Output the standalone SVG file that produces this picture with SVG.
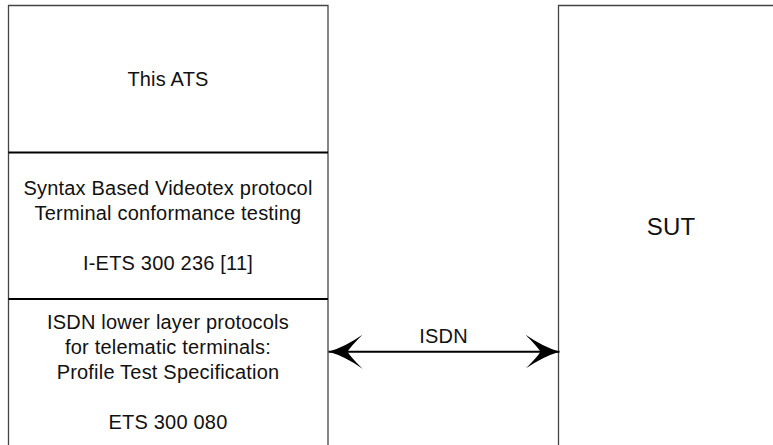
<svg xmlns="http://www.w3.org/2000/svg" width="773" height="445" viewBox="0 0 773 445">
<style>
  text { font-family: "Liberation Sans", Arial, sans-serif; font-size: 20px; letter-spacing: 0.2px; fill: #111; text-anchor: middle; }
  .edge { stroke: #444; stroke-width: 1.3; fill: none; }
  .div { stroke: #000; stroke-width: 2; fill: none; }
  .conn { stroke: #000; stroke-width: 2; fill: none; }
</style>
<defs>
  <marker id="head" viewBox="0 -17 34 34" refX="34" refY="0" markerWidth="34" markerHeight="34" markerUnits="userSpaceOnUse" orient="auto-start-reverse">
    <path d="M34,0 Q17,-5 0,-17 Q12,-5 15,0 Q12,5 0,17 Q17,5 34,0 Z" fill="#000"/>
  </marker>
</defs>
<rect width="773" height="445" fill="#fff"/>
<g id="ats-stack">
  <path class="edge" d="M8.5,446 V5.5 H328 V446"/>
  <g id="this-ats">
    <text x="168" y="86">This ATS</text>
  </g>
  <g id="videotex">
    <line class="div" x1="8.5" y1="152.5" x2="328" y2="152.5"/>
    <text x="168" y="195">Syntax Based Videotex protocol</text>
    <text x="168" y="220">Terminal conformance testing</text>
    <text x="168" y="270">I-ETS 300 236 [11]</text>
  </g>
  <g id="isdn-lower">
    <line class="div" x1="8.5" y1="299" x2="328" y2="299"/>
    <text x="168" y="329">ISDN lower layer protocols</text>
    <text x="168" y="354">for telematic terminals:</text>
    <text x="168" y="379">Profile Test Specification</text>
    <text x="168" y="429">ETS 300 080</text>
  </g>
</g>
<g id="sut">
  <path class="edge" d="M558.5,446 V5.5 H775"/>
  <text x="671" y="235" style="font-size:24px">SUT</text>
</g>
<g id="connectors">
  <line class="conn" x1="328.5" y1="351.7" x2="559.5" y2="351.7" marker-start="url(#head)" marker-end="url(#head)"/>
  <text x="443.5" y="343">ISDN</text>
</g>
</svg>
